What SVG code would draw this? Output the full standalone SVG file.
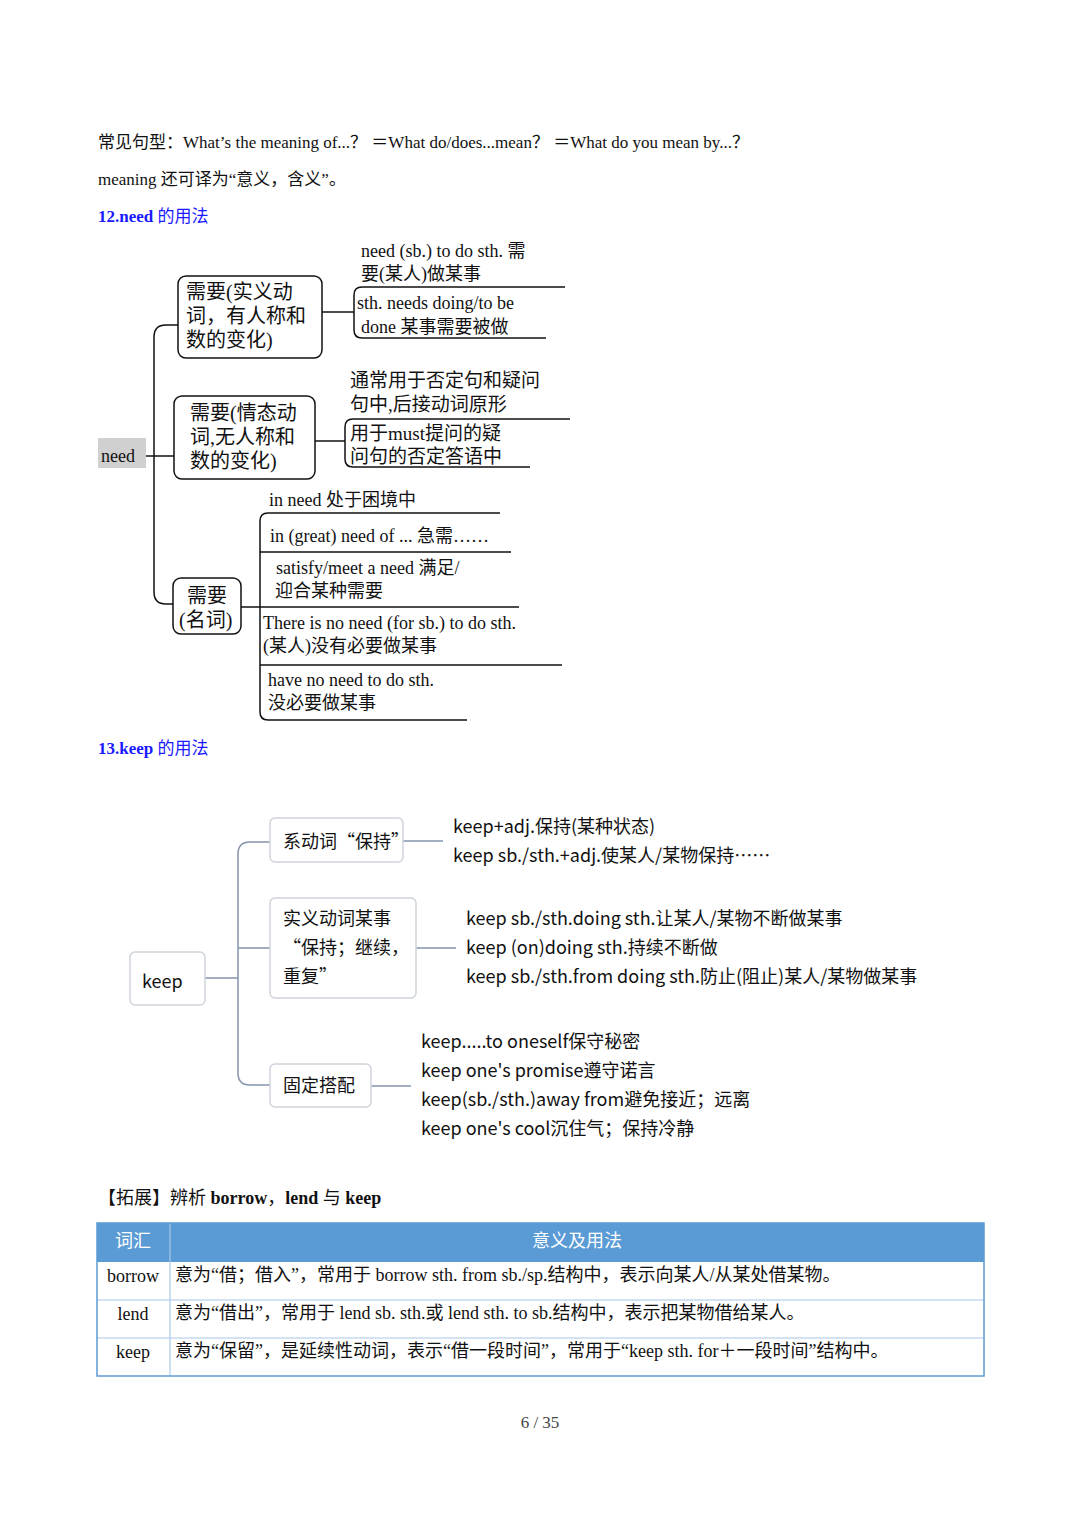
<svg xmlns="http://www.w3.org/2000/svg" width="1080" height="1527" viewBox="0 0 1080 1527">
<style>
.s{font-family:"Liberation Serif","Noto Sans CJK SC",serif;fill:#111}
.k{font-family:"Noto Sans CJK SC","Noto Sans",sans-serif;fill:#111;font-size:18px}
.ln{fill:none;stroke:#111;stroke-width:1.5}
.bx{fill:#fff;stroke:#111;stroke-width:1.5}
.kl{fill:none;stroke:#8494ae;stroke-width:1.5}
.kb{fill:#fff;stroke:#cfd4dc;stroke-width:1.5}
.h{font-family:"Liberation Serif","Noto Sans CJK SC",serif;fill:#1a1aff;font-size:17px}
</style>
<rect width="1080" height="1527" fill="#fff"/>
<text class="s" x="98" y="148" font-size="17">常见句型：What’s the meaning of...？ ＝What do/does...mean？ ＝What do you mean by...？</text>
<text class="s" x="98" y="185" font-size="17">meaning 还可译为“意义，含义”。</text>
<text class="h" x="98" y="222"><tspan font-weight="bold">12.need</tspan> 的用法</text>
<g id="connectors">
<path class="ln" d="M178 325 H166 Q154 325 154 337 V592 Q154 604 166 604 H173"/>
<path class="ln" d="M146 456 H174"/>
<path class="ln" d="M322 312 H354"/>
<path class="ln" d="M565 287 H362 Q354 287 354 295 V330 Q354 338 362 338 H546"/>
<path class="ln" d="M315 441 H345"/>
<path class="ln" d="M570 419 H353 Q345 419 345 427 V459 Q345 467 353 467 H530"/>
<path class="ln" d="M241 607 H519"/>
<path class="ln" d="M500 513 H268 Q260 513 260 521 V712 Q260 720 268 720 H467"/>
<path class="ln" d="M260 552 H511 M260 665 H562"/>
<path class="kl" d="M205 978 H238 M270 842 H250 Q238 842 238 854 V1073 Q238 1085 250 1085 H270 M238 948 H270"/>
<path class="kl" d="M403 841 H443 M416 948 H456 M371 1086 H411"/>
</g>
<g id="need"><rect x="98" y="438" width="48" height="30" fill="#d0d0d0"/><text class="s" x="101" y="462" font-size="18">need</text></g>
<g id="n1"><rect class="bx" x="178" y="276" width="144" height="82" rx="8"/>
<text class="s" font-size="20" x="186" y="299">需要(实义动</text><text class="s" font-size="20" x="186" y="323">词，有人称和</text><text class="s" font-size="20" x="186" y="347">数的变化)</text></g>
<g id="n1a"><text class="s" font-size="18" x="361" y="257">need (sb.) to do sth. 需</text><text class="s" font-size="18" x="361" y="280">要(某人)做某事</text>
<text class="s" font-size="18" x="357" y="309">sth. needs doing/to be</text><text class="s" font-size="18" x="361" y="333">done 某事需要被做</text></g>
<g id="n2"><rect class="bx" x="174" y="396" width="141" height="83" rx="8"/>
<text class="s" font-size="20" x="190" y="420">需要(情态动</text><text class="s" font-size="20" x="190" y="444">词,无人称和</text><text class="s" font-size="20" x="190" y="468">数的变化)</text></g>
<g id="n2a"><text class="s" font-size="19" x="350" y="387">通常用于否定句和疑问</text><text class="s" font-size="19" x="350" y="411">句中,后接动词原形</text>
<text class="s" font-size="19" x="350" y="440">用于must提问的疑</text><text class="s" font-size="19" x="350" y="463">问句的否定答语中</text></g>
<g id="n3"><rect class="bx" x="173" y="578" width="68" height="56" rx="8"/>
<text class="s" font-size="20" x="187" y="603">需要</text><text class="s" font-size="20" x="179" y="627">(名词)</text></g>
<g id="n3a">
<text class="s" font-size="18" x="269" y="506">in need 处于困境中</text>
<text class="s" font-size="18" x="270" y="542">in (great) need of ... 急需……</text>
<text class="s" font-size="18" x="276" y="574">satisfy/meet a need 满足/</text>
<text class="s" font-size="18" x="275" y="597">迎合某种需要</text>
<text class="s" font-size="18" x="263" y="629">There is no need (for sb.) to do sth.</text>
<text class="s" font-size="18" x="263" y="652">(某人)没有必要做某事</text>
<text class="s" font-size="18" x="268" y="686">have no need to do sth.</text>
<text class="s" font-size="18" x="268" y="709">没必要做某事</text></g>
<text class="h" x="98" y="754"><tspan font-weight="bold">13.keep</tspan> 的用法</text>
<g id="keep"><rect class="kb" x="130" y="952" width="75" height="53" rx="5"/><text class="k" x="142" y="988" font-size="24">keep</text></g>
<g id="k1"><rect class="kb" x="270" y="818" width="133" height="44" rx="5"/><text class="k" x="283" y="848">系动词“保持”</text>
<text class="k" x="453" y="833">keep+adj.保持(某种状态)</text><text class="k" x="453" y="862">keep sb./sth.+adj.使某人/某物保持……</text></g>
<g id="k2"><rect class="kb" x="270" y="898" width="146" height="100" rx="5"/>
<text class="k" x="283" y="925">实义动词某事</text><text class="k" x="283" y="954">“保持；继续，</text><text class="k" x="283" y="983">重复”</text>
<text class="k" x="466" y="925">keep sb./sth.doing sth.让某人/某物不断做某事</text>
<text class="k" x="466" y="954">keep (on)doing sth.持续不断做</text>
<text class="k" x="466" y="983">keep sb./sth.from doing sth.防止(阻止)某人/某物做某事</text></g>
<g id="k3"><rect class="kb" x="270" y="1064" width="101" height="43" rx="5"/><text class="k" x="283" y="1092">固定搭配</text>
<text class="k" x="421" y="1048">keep.....to oneself保守秘密</text>
<text class="k" x="421" y="1077">keep one's promise遵守诺言</text>
<text class="k" x="421" y="1106">keep(sb./sth.)away from避免接近；远离</text>
<text class="k" x="421" y="1135">keep one's cool沉住气；保持冷静</text></g>
<text class="s" x="98" y="1204" font-size="18">【拓展】辨析 <tspan font-weight="bold">borrow</tspan>，<tspan font-weight="bold">lend</tspan> 与 <tspan font-weight="bold">keep</tspan></text>
<g id="table">
<rect x="97" y="1223" width="887" height="39" fill="#5b9bd5"/>
<path d="M97 1300 H984 M97 1338 H984" stroke="#a9c8e8" stroke-width="1.2"/>
<path d="M170 1223 V1376" stroke="#a9c8e8" stroke-width="1.2"/>
<rect x="97" y="1223" width="887" height="153" fill="none" stroke="#5b9bd5" stroke-width="1.5"/>
<text class="s" x="133" y="1243" font-size="18" text-anchor="middle" fill="#fff" style="fill:#fff" dominant-baseline="middle">词汇</text>
<text class="s" x="577" y="1243" font-size="18" text-anchor="middle" style="fill:#fff" dominant-baseline="middle">意义及用法</text>
<text class="s" x="133" y="1282" font-size="18" text-anchor="middle">borrow</text>
<text class="s" x="133" y="1320" font-size="18" text-anchor="middle">lend</text>
<text class="s" x="133" y="1358" font-size="18" text-anchor="middle">keep</text>
<text class="s" x="175" y="1281" font-size="18">意为“借；借入”，常用于 borrow sth. from sb./sp.结构中，表示向某人/从某处借某物。</text>
<text class="s" x="175" y="1319" font-size="18">意为“借出”，常用于 lend sb. sth.或 lend sth. to sb.结构中，表示把某物借给某人。</text>
<text class="s" x="175" y="1357" font-size="18">意为“保留”，是延续性动词，表示“借一段时间”，常用于“keep sth. for＋一段时间”结构中。</text>
</g>
<text class="s" x="540" y="1428" font-size="17" text-anchor="middle" style="fill:#444">6 / 35</text>
</svg>
